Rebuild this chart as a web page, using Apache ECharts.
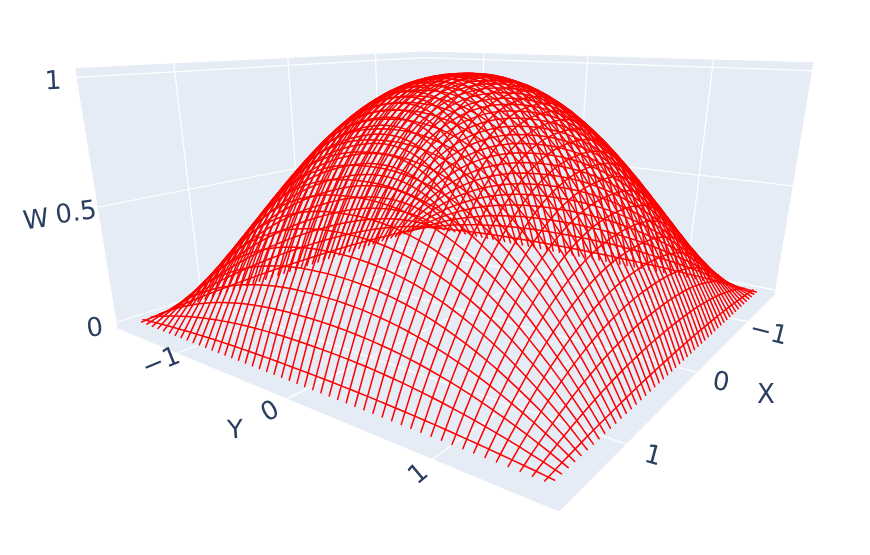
<!DOCTYPE html>
<html>
<head>
<meta charset="utf-8">
<title>W surface</title>
<script src="https://cdn.jsdelivr.net/npm/echarts@6/dist/echarts.min.js"></script>
<style>
  html, body { margin: 0; padding: 0; background: #fff; }
  #main { width: 870px; height: 555px; }
</style>
</head>
<body>
<div id="main"></div>
<script>
// sample positions along X and Y, the first and last ones are the rim of the surface
const gridX = [-1.571, -1.539, -1.477, -1.414, -1.351, -1.288, -1.225, -1.162, -1.100, -1.037, -0.974, -0.911, -0.848, -0.785, -0.723, -0.660, -0.597, -0.534, -0.471, -0.408, -0.346, -0.283, -0.220, -0.157, -0.094, -0.031, 0.031, 0.094, 0.157, 0.220, 0.283, 0.346, 0.408, 0.471, 0.534, 0.597, 0.660, 0.723, 0.785, 0.848, 0.911, 0.974, 1.037, 1.100, 1.162, 1.225, 1.288, 1.351, 1.414, 1.477, 1.539, 1.571];
const gridY = [-1.571, -1.539, -1.477, -1.414, -1.351, -1.288, -1.225, -1.162, -1.100, -1.037, -0.974, -0.911, -0.848, -0.785, -0.723, -0.660, -0.597, -0.534, -0.471, -0.408, -0.346, -0.283, -0.220, -0.157, -0.094, -0.031, 0.031, 0.094, 0.157, 0.220, 0.283, 0.346, 0.408, 0.471, 0.534, 0.597, 0.660, 0.723, 0.785, 0.848, 0.911, 0.974, 1.037, 1.100, 1.162, 1.225, 1.288, 1.351, 1.414, 1.477, 1.539, 1.571];
// dome height along X and along Y. W at a sample is profileX[i] * profileY[j]
const profileX = [0, 0.042, 0.124, 0.202, 0.278, 0.347, 0.413, 0.476, 0.536, 0.591, 0.642, 0.690, 0.734, 0.775, 0.812, 0.845, 0.875, 0.902, 0.925, 0.945, 0.961, 0.975, 0.985, 0.993, 0.998, 1, 1, 0.998, 0.994, 0.988, 0.979, 0.967, 0.952, 0.933, 0.912, 0.887, 0.858, 0.826, 0.790, 0.750, 0.706, 0.659, 0.607, 0.552, 0.492, 0.428, 0.360, 0.288, 0.211, 0.130, 0.044, 0];
const profileY = [0, 0.044, 0.130, 0.211, 0.288, 0.360, 0.428, 0.492, 0.552, 0.607, 0.659, 0.706, 0.750, 0.790, 0.826, 0.858, 0.887, 0.912, 0.933, 0.952, 0.967, 0.979, 0.988, 0.994, 0.998, 1, 1, 0.998, 0.993, 0.985, 0.975, 0.961, 0.945, 0.925, 0.902, 0.875, 0.845, 0.812, 0.775, 0.734, 0.690, 0.642, 0.591, 0.536, 0.476, 0.413, 0.347, 0.278, 0.202, 0.124, 0.042, 0];

const xTicks = [-1, 0, 1];
const yTicks = [-1, 0, 1];
const wTicks = [0, 0.5, 1];
const xTickLabels = ['\u22121', '0', '1'];
const yTickLabels = ['\u22121', '0', '1'];
const wTickLabels = ['0', '0.5', '1'];

// box limits of the scene
const boxX = 1.672;
const boxY = 1.667;
const boxWMin = -0.0265;
const boxWMax = 1.0317;

// camera, fitted on the corners of the box
const camX = { k: -0.3312, vx: 1045, vy: 22.4 };
const camY = { k: -0.2508, vx: -617, vy: 23 };
const camW = { k: -0.078, vx: 438, vy: 2293 };
const camOrigin = [425, 226.8];

const textColor = '#2a3f5f';
const labelFont = '26px "DejaVu Sans"';

const project = (x, y, w) => {
  const s = 0.5 + x / (2 * boxX);
  const t = 0.5 + y / (2 * boxY);
  const h = (w - boxWMin) / (boxWMax - boxWMin);
  const a = camX.k * s, b = camY.k * t, c = camW.k * h;
  const den = 1 + a + b + c;
  return [
    (a * camX.vx + b * camY.vx + c * camW.vx + camOrigin[0]) / den,
    (a * camX.vy + b * camY.vy + c * camW.vy + camOrigin[1]) / den,
  ];
};

const lineSeries = (points, color, width) => ({
  type: 'line',
  data: points,
  symbol: 'none',
  silent: true,
  animation: false,
  lineStyle: { color: color, width: width, cap: 'round', join: 'round' },
});

// walls and floor
const walls = [
  [[-boxX, -boxY, boxWMin], [boxX, -boxY, boxWMin], [boxX, boxY, boxWMin], [-boxX, boxY, boxWMin]],
  [[-boxX, -boxY, boxWMin], [boxX, -boxY, boxWMin], [boxX, -boxY, boxWMax], [-boxX, -boxY, boxWMax]],
  [[-boxX, -boxY, boxWMin], [-boxX, boxY, boxWMin], [-boxX, boxY, boxWMax], [-boxX, -boxY, boxWMax]],
];

const wallSeries = {
  type: 'custom',
  silent: true,
  animation: false,
  data: walls.map((_, i) => i),
  renderItem: (params, api) => ({
    type: 'polygon',
    shape: { points: walls[api.value(0)].map((p) => api.coord(project(p[0], p[1], p[2]))) },
    style: { fill: '#E5ECF6', stroke: '#E5ECF6', lineWidth: 1 },
  }),
};

// white grid lines
const gridSeries = [];
xTicks.forEach((x) => {
  gridSeries.push(lineSeries([project(x, -boxY, boxWMax), project(x, -boxY, boxWMin), project(x, boxY, boxWMin)], '#fff', 1.2));
});
yTicks.forEach((y) => {
  gridSeries.push(lineSeries([project(-boxX, y, boxWMax), project(-boxX, y, boxWMin), project(boxX, y, boxWMin)], '#fff', 1.2));
});
wTicks.forEach((w) => {
  gridSeries.push(lineSeries([project(boxX, -boxY, w), project(-boxX, -boxY, w), project(-boxX, boxY, w)], '#fff', 1.2));
});

// wires, the rim itself has no line in the picture
const wireSeries = [];
for (let i = 1; i < gridX.length - 1; i++) {
  wireSeries.push(lineSeries(gridY.map((y, j) => project(gridX[i], y, profileX[i] * profileY[j])), '#ff0000', 1.5));
}
for (let j = 1; j < gridY.length - 1; j++) {
  wireSeries.push(lineSeries(gridX.map((x, i) => project(x, gridY[j], profileX[i] * profileY[j])), '#ff0000', 1.5));
}

// text: anchor point in the scene, pixel offset, rotation in degrees
const labels = [];
xTicks.forEach((x, i) => {
  labels.push({ text: xTickLabels[i], at: project(x, boxY, boxWMin), off: [[21, 12], [24, 11], [27, 13]][i], rot: [-14, -10, -15][i] });
});
yTicks.forEach((y, i) => {
  labels.push({ text: yTickLabels[i], at: project(boxX, y, boxWMin), off: [[-16, 10], [-17, 14], [-14, 16]][i], rot: [22, 28, 40][i] });
});
wTicks.forEach((w, i) => {
  labels.push({ text: wTickLabels[i], at: project(boxX, -boxY, w), off: [[-22, 7], [-22, 7], [-24, 5]][i], rot: [8, 8, 3][i] });
});
labels.push({ text: 'X', at: project(0, boxY, boxWMin), off: [69, 24], rot: 0 });
labels.push({ text: 'Y', at: project(boxX, 0, boxWMin), off: [-52, 33], rot: 4 });
labels.push({ text: 'W', at: project(boxX, -boxY, 0.5), off: [-62, 14], rot: 8 });

const labelSeries = {
  type: 'custom',
  silent: true,
  animation: false,
  z: 5,
  data: labels.map((_, i) => i),
  renderItem: (params, api) => {
    const l = labels[api.value(0)];
    const p = api.coord(l.at);
    return {
      type: 'text',
      x: p[0] + l.off[0],
      y: p[1] + l.off[1],
      rotation: l.rot * Math.PI / 180,
      style: { text: l.text, font: labelFont, fill: textColor, align: 'center', verticalAlign: 'middle' },
    };
  },
};

const myChart = echarts.init(document.getElementById('main'));
myChart.setOption({
  animation: false,
  backgroundColor: '#fff',
  grid: { left: 0, right: 0, top: 0, bottom: 0 },
  xAxis: { type: 'value', min: 0, max: 870, show: false },
  yAxis: { type: 'value', min: 0, max: 555, inverse: true, show: false },
  series: [wallSeries, ...gridSeries, ...wireSeries, labelSeries],
});
</script>
</body>
</html>
